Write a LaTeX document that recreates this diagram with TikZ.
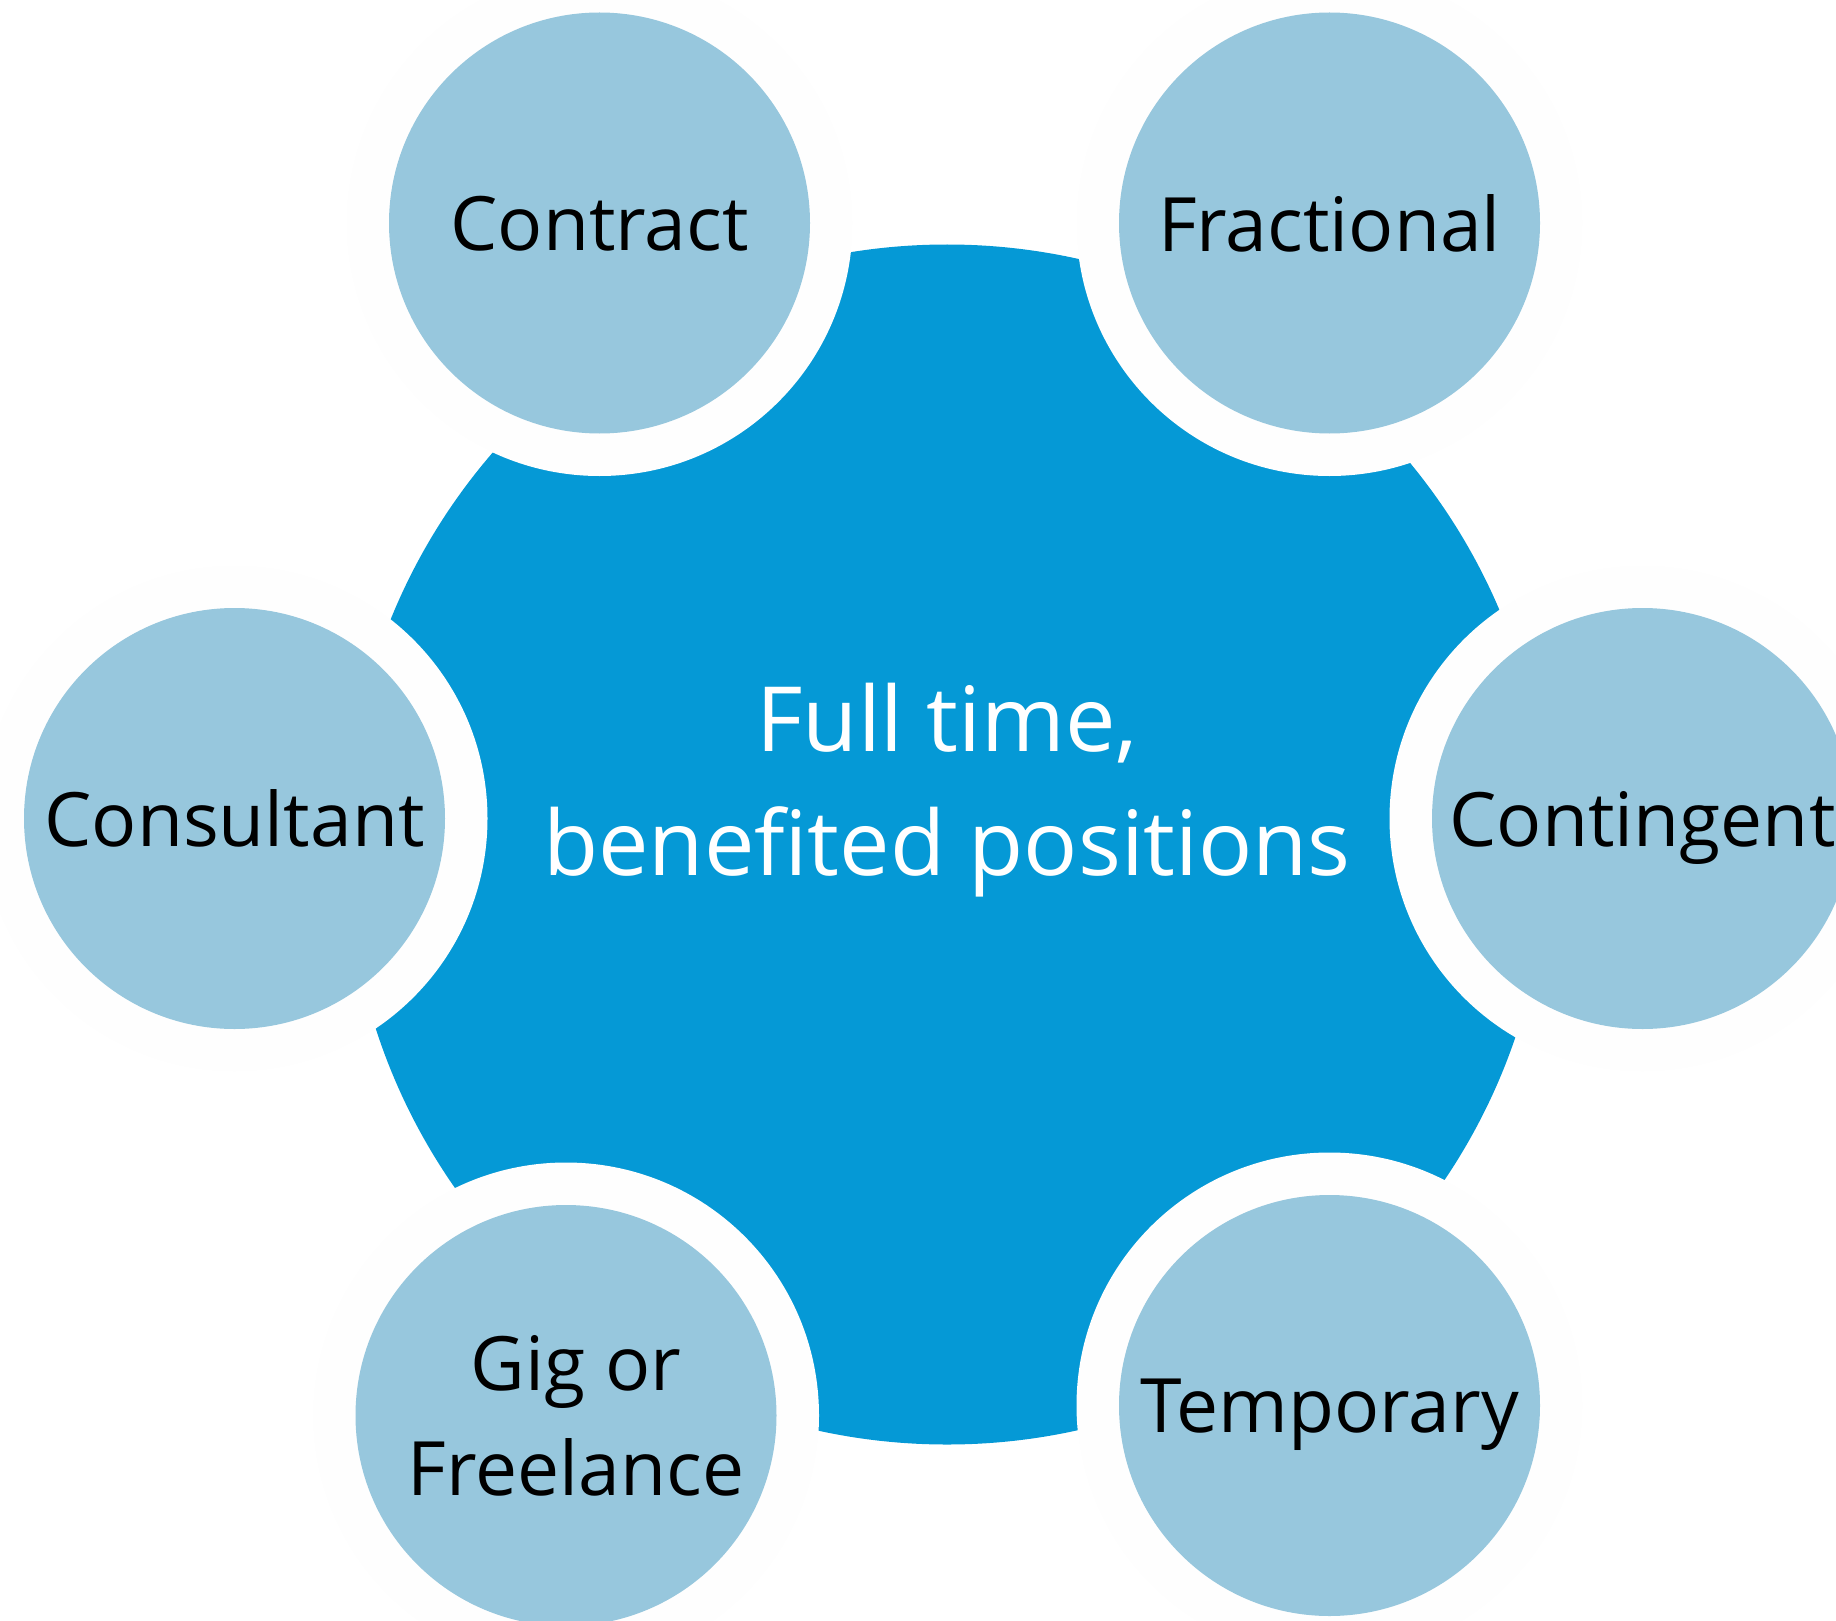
\documentclass[tikz,border=0pt]{standalone}
\usepackage{fontspec}
\setmainfont{Open Sans}

\definecolor{hubblue}{RGB}{5,153,214}
\definecolor{itemblue}{RGB}{151,199,221}
\definecolor{ringwhite}{RGB}{254,254,254}

\tikzset{every picture/.style={line width=0.75pt}}
\tikzset{
	hub/.style={circle, fill=hubblue, inner sep=0pt, minimum size=600pt},
	ring/.style={circle, fill=ringwhite, inner sep=0pt, minimum size=253pt},
	item/.style={circle, fill=itemblue, inner sep=0pt, minimum size=210.5pt, text=black, align=center, font=\fontsize{37.5}{52.5}\selectfont},
	itemone/.style={item, text depth=0pt},
	hubtext/.style={text=white, align=center, font=\fontsize{45}{62}\selectfont}
}

\begin{document}
\begin{tikzpicture}[x=0.5pt,y=0.5pt,yscale=-1,xscale=1]
	\useasboundingbox (0,0) rectangle (1836,1621);

	%Shape: Circle (centre)
	\node [hub] (hub) at (947,844.5) {};

	%Shape: Circle (white rings)
	\node [ring] (contractring) at (599.5,223) {};
	\node [ring] (fractionalring) at (1329.5,223) {};
	\node [ring] (consultantring) at (234.5,818.5) {};
	\node [ring] (contingentring) at (1642.5,818.5) {};
	\node [ring] (gigring) at (566,1415.5) {};
	\node [ring] (temporaryring) at (1329.5,1405.5) {};

	% Text Node
	\node [itemone] (contract) at (contractring) {Contract};
	% Text Node
	\node [itemone] (fractional) at (fractionalring) {Fractional};
	% Text Node
	\node [itemone] (consultant) at (consultantring) {Consultant};
	% Text Node
	\node [itemone] (contingent) at (contingentring) {Contingent};
	% Text Node
	\node [item] (gig) at (gigring) {};
	\node [align=center, font=\fontsize{37.5}{52.5}\selectfont] (giglabel) at ([xshift=5pt]gig.center) {Gig or\\Freelance};
	% Text Node
	\node [itemone] (temporary) at (temporaryring) {Temporary};

	% Text Node
	\node [hubtext] (hublabel) at (947,790) {Full time,\\benefited positions};

\end{tikzpicture}
\end{document}
